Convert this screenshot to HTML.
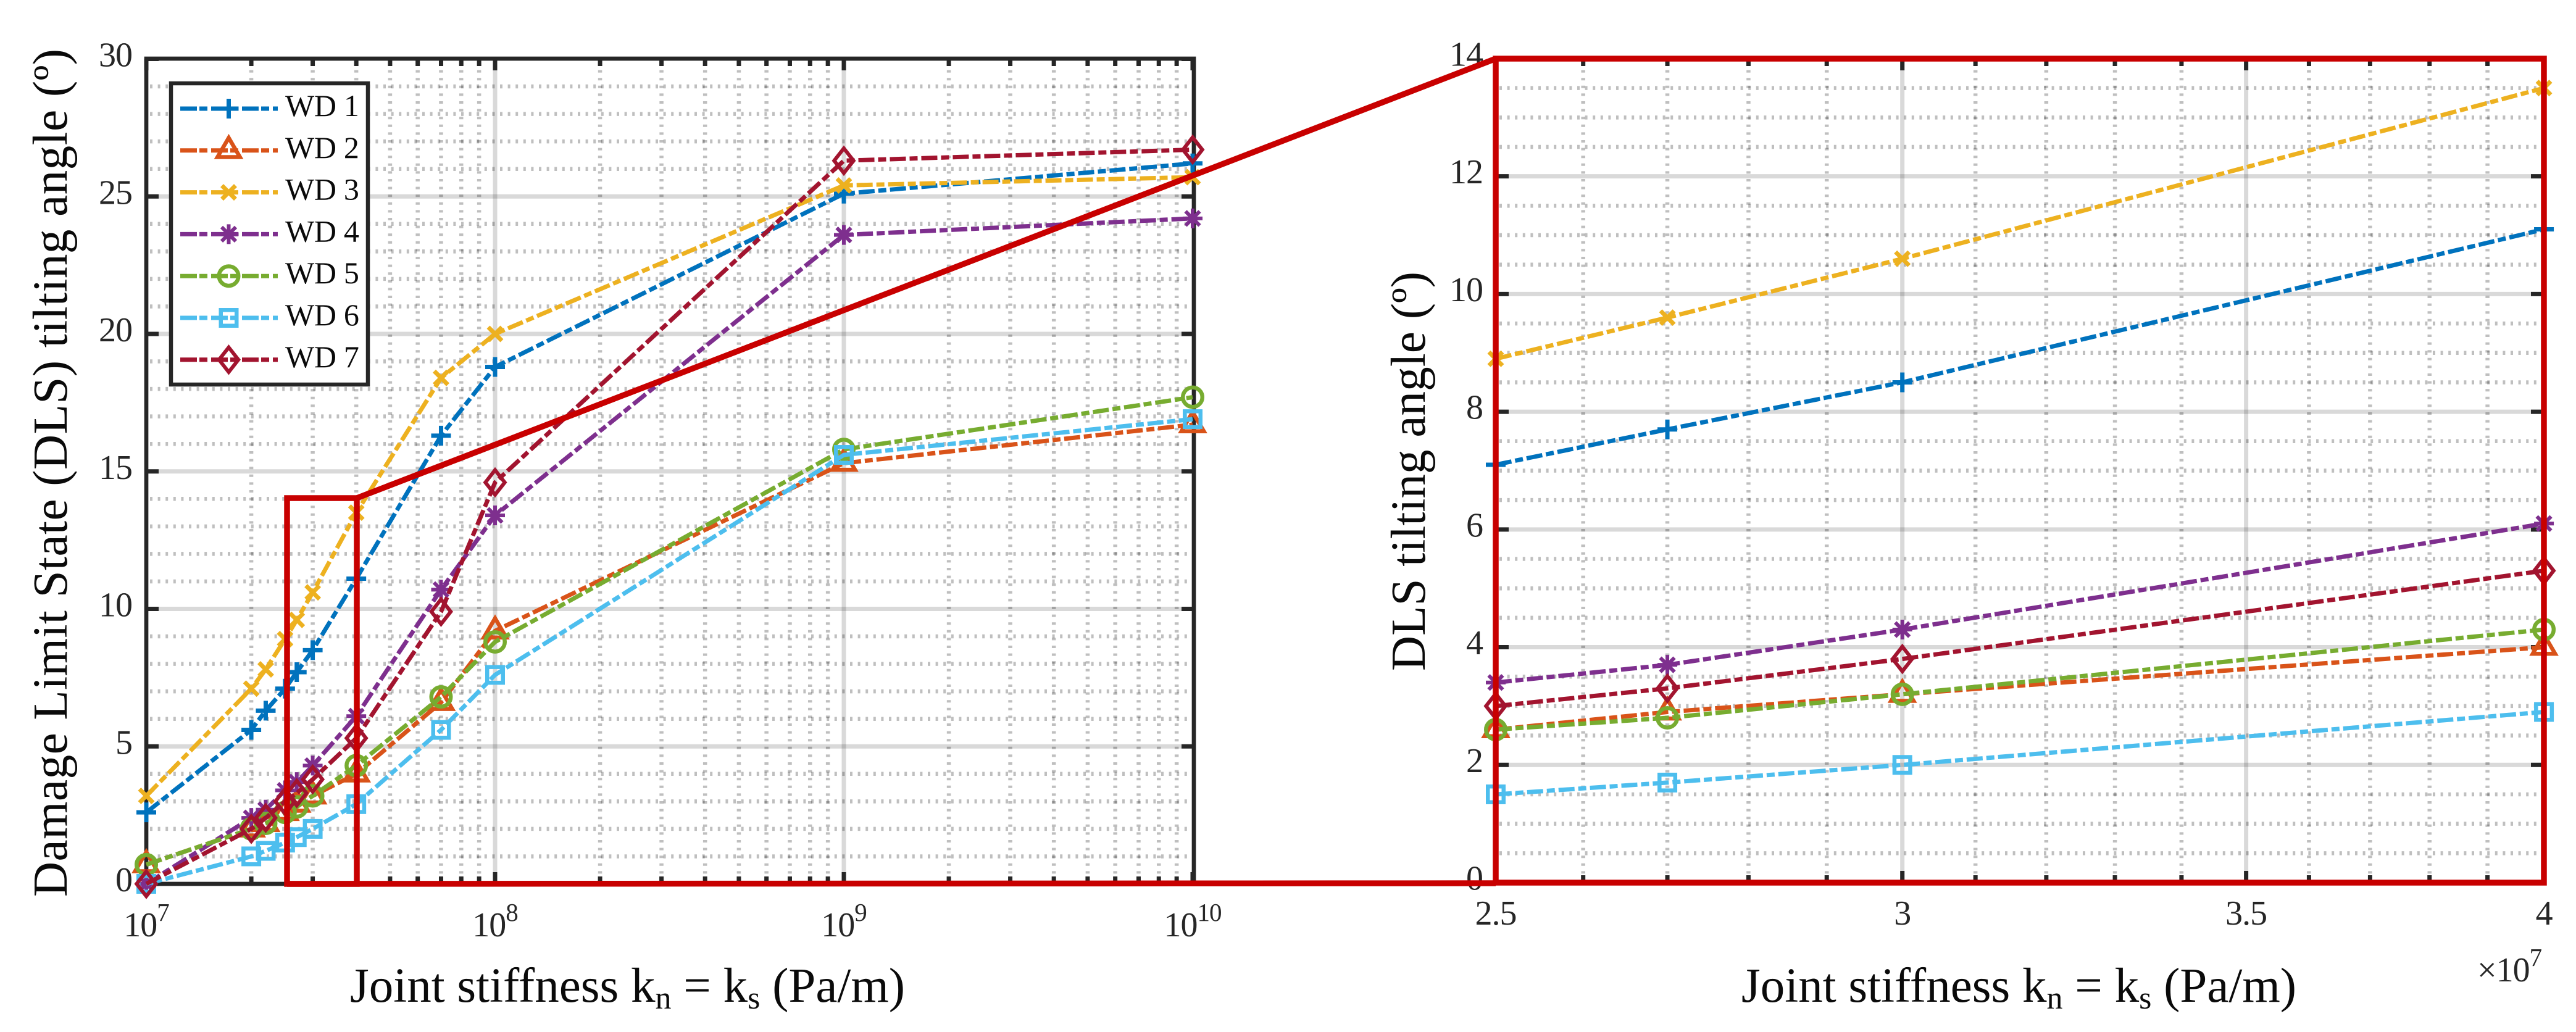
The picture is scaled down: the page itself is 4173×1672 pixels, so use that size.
<!DOCTYPE html>
<html lang="en">
<head>
<meta charset="utf-8">
<title>DLS tilting angle versus joint stiffness</title>
<style>
html,body{margin:0;padding:0;background:#fff;}
svg{display:block;}
text{font-family:"Liberation Serif",serif;}
.tick-text{font-size:56px;fill:#262626;letter-spacing:-1px;}
.axis-title{font-size:79px;fill:#0a0a0a;}
</style>
</head>
<body>
<svg id="chart" xmlns="http://www.w3.org/2000/svg" width="4173" height="1672" viewBox="0 0 4173 1672">
  <rect x="0" y="0" width="4173" height="1672" fill="#fff"/>
  <g id="left-grid"></g>
  <g id="right-grid"></g>
  <g id="left-axes"></g>
  <g id="right-axes"></g>
  <g id="left-series"></g>
  <g id="right-series"></g>
  <g id="legend"></g>

  <g fill="none" stroke="#c80000" stroke-width="9.5" stroke-linejoin="miter">
    <rect x="465" y="807" width="113" height="625"/>
    <line x1="578" y1="807" x2="2423" y2="95"/>
    <line x1="465" y1="1432" x2="2423" y2="1431"/>
    <rect x="2423" y="95" width="1698" height="1335"/>
  </g>

  <text class="axis-title" transform="translate(108 766) rotate(-90)" text-anchor="middle" textLength="1374" lengthAdjust="spacing">Damage Limit State (DLS) tilting angle (º)</text>
  <text class="axis-title" x="567" y="1623">Joint stiffness k<tspan dy="11" font-size="52">n</tspan><tspan dy="-11"> = k</tspan><tspan dy="11" font-size="52">s</tspan><tspan dy="-11"> (Pa/m)</tspan></text>
  <text class="axis-title" transform="translate(2308 763.5) rotate(-90)" text-anchor="middle" textLength="647" lengthAdjust="spacing">DLS tilting angle (º)</text>
  <text class="axis-title" x="2821" y="1623">Joint stiffness k<tspan dy="11" font-size="52">n</tspan><tspan dy="-11"> = k</tspan><tspan dy="11" font-size="52">s</tspan><tspan dy="-11"> (Pa/m)</tspan></text>
  <text class="tick-text" x="4013" y="1590">×10<tspan dy="-25" font-size="41">7</tspan></text>
</svg>

<script>
// ---- data ----
const stiffness = [1e7, 2e7, 2.2e7, 2.5e7, 2.7e7, 3e7, 4e7, 7e7, 1e8, 1e9, 1e10];
const wd1 = [2.6, 5.6, 6.3, 7.1, 7.7, 8.5, 11.1, 16.3, 18.8, 25.1, 26.2];
const wd2 = [0.7, 2.0, 2.2, 2.6, 2.9, 3.2, 4.0, 6.6, 9.2, 15.3, 16.7];
const wd3 = [3.2, 7.1, 7.8, 8.9, 9.6, 10.6, 13.5, 18.4, 20.0, 25.4, 25.7];
const wd4 = [0.0, 2.4, 2.7, 3.4, 3.7, 4.3, 6.1, 10.7, 13.4, 23.6, 24.2];
const wd5 = [0.7, 2.0, 2.2, 2.6, 2.8, 3.2, 4.3, 6.8, 8.8, 15.8, 17.7];
const wd6 = [0.0, 1.0, 1.2, 1.5, 1.7, 2.0, 2.9, 5.6, 7.6, 15.6, 16.9];
const wd7 = [0.0, 2.0, 2.4, 3.0, 3.3, 3.8, 5.3, 9.9, 14.6, 26.3, 26.7];
const seriesLabels = ['WD 1', 'WD 2', 'WD 3', 'WD 4', 'WD 5', 'WD 6', 'WD 7'];
const leftYTicks = [0, 5, 10, 15, 20, 25, 30];
const leftYMinor = [1, 2, 3, 4, 6, 7, 8, 9, 11, 12, 13, 14, 16, 17, 18, 19, 21, 22, 23, 24, 26, 27, 28, 29];
const leftXExponents = [7, 8, 9, 10];
const leftXMinorMultipliers = [2, 3, 4, 5, 6, 7, 8, 9];
const rightYTicks = [0, 2, 4, 6, 8, 10, 12, 14];
const rightYMinor = [0.5, 1, 1.5, 2.5, 3, 3.5, 4.5, 5, 5.5, 6.5, 7, 7.5, 8.5, 9, 9.5, 10.5, 11, 11.5, 12.5, 13, 13.5];
const rightXTicks = [2.5, 3, 3.5, 4];
const rightXMinor = [2.6, 2.7, 2.8, 2.9, 3.1, 3.2, 3.3, 3.4, 3.6, 3.7, 3.8, 3.9];

const allSeries = [wd1, wd2, wd3, wd4, wd5, wd6, wd7];
const seriesColors = ['#0072BD', '#D95319', '#EDB120', '#7E2F8E', '#77AC30', '#4DBEEE', '#A2142F'];
const markerKinds = ['plus', 'triangle', 'cross', 'star', 'circle', 'square', 'diamond'];

// ---- axis functions ----
const xLeft = k => 237 + 565 * (Math.log10(k) - 7);
const yLeft = v => 1432 - 44.55 * v;
const xRight = k => 2423 + 8319 * Math.log10(k / 2.5e7);
const yRight = v => 1430 - 95.36 * v;

const NS = 'http://www.w3.org/2000/svg';
const AXIS = '#262626';
const DASH = '26 6 13 6';

function make(tag, attrs, parent) {
  const el = document.createElementNS(NS, tag);
  for (const key in attrs) el.setAttribute(key, attrs[key]);
  parent.appendChild(el);
  return el;
}

function gridLine(parent, x1, y1, x2, y2, major, horizontal) {
  const attrs = {x1: x1, y1: y1, x2: x2, y2: y2, stroke: '#000', fill: 'none'};
  if (major) {
    attrs['stroke-width'] = 7;
    attrs['stroke-opacity'] = 0.15;
  } else {
    attrs['stroke-width'] = 6.5;
    attrs['stroke-opacity'] = 0.25;
    attrs['stroke-dasharray'] = '4 8.6';
  }
  const el = make('line', attrs, parent);
  
  
}

function tickMark(parent, x1, y1, x2, y2) {
  const el = make('line', {x1: x1, y1: y1, x2: x2, y2: y2, stroke: AXIS, 'stroke-width': 7}, parent);
  
  
}

function tickLabel(parent, x, y, anchor, str, exponent) {
  const el = make('text', {x: x, y: y, 'text-anchor': anchor, class: 'tick-text'}, parent);
  
  
  el.textContent = str;
  if (exponent !== undefined) {
    const sup = make('tspan', {dy: -25, 'font-size': 41}, el);
    sup.textContent = exponent;
  }
}

function drawMarker(parent, kind, cx, cy, color) {
  const g = make('g', {transform: 'translate(' + cx + ' ' + cy + ')', fill: 'none', stroke: color, 'stroke-width': 6.5}, parent);
  
  
  if (kind === 'plus') {
    make('path', {d: 'M-16 0H16M0 -16V16', 'stroke-width': 7}, g);
  } else if (kind === 'triangle') {
    make('path', {d: 'M0 -20.5L18.2 10.7H-18.2Z', 'stroke-linejoin': 'miter', 'stroke-miterlimit': 10}, g);
  } else if (kind === 'cross') {
    make('path', {d: 'M-11 -11L11 11M-11 11L11 -11', 'stroke-width': 7}, g);
  } else if (kind === 'star') {
    make('path', {d: 'M-16 0H16M0 -16V16M-11.5 -11.5L11.5 11.5M-11.5 11.5L11.5 -11.5', 'stroke-width': 6}, g);
  } else if (kind === 'circle') {
    make('circle', {cx: 0, cy: 0, r: 15.75}, g);
  } else if (kind === 'square') {
    make('rect', {x: -12.75, y: -12.75, width: 25.5, height: 25.5}, g);
  } else if (kind === 'diamond') {
    make('path', {d: 'M0 -20L15.7 0L0 20L-15.7 0Z', 'stroke-linejoin': 'miter', 'stroke-miterlimit': 10, 'stroke-width': 6}, g);
  }
}

function drawSeries(parent, xFn, yFn, keep) {
  allSeries.forEach(function (values, s) {
    const group = make('g', {}, parent);
    
    
    const pts = [];
    values.forEach(function (v, i) {
      if (keep(stiffness[i])) pts.push([xFn(stiffness[i]), yFn(v)]);
    });
    const line = make('polyline', {
      points: pts.map(p => p[0].toFixed(1) + ',' + p[1].toFixed(1)).join(' '),
      fill: 'none', stroke: seriesColors[s], 'stroke-width': 7, 'stroke-dasharray': DASH
    }, group);
    
    
    pts.forEach(function (p) {
      drawMarker(group, markerKinds[s], p[0], p[1], seriesColors[s]);
    });
  });
}

// ---- overview panel ----
const L = {x0: 237, x1: 1934, y0: 1432, y1: 95};
const leftGrid = document.getElementById('left-grid');
const leftAxes = document.getElementById('left-axes');

leftYMinor.forEach(v => gridLine(leftGrid, L.x0 + 6, yLeft(v), L.x1, yLeft(v), false, true));
leftYTicks.forEach(function (v) {
  if (v !== 0 && v !== 30) gridLine(leftGrid, L.x0, yLeft(v), L.x1, yLeft(v), true, true);
  tickMark(leftAxes, L.x0, yLeft(v), L.x0 + 20, yLeft(v));
  tickMark(leftAxes, L.x1, yLeft(v), L.x1 - 20, yLeft(v));
  tickLabel(leftAxes, 214, yLeft(v) + 12, 'end', String(v));
});
leftXExponents.forEach(function (e) {
  const x = xLeft(Math.pow(10, e));
  if (e !== 7 && e !== 10) gridLine(leftGrid, x, L.y1, x, L.y0, true, false);
  tickMark(leftAxes, x, L.y0, x, L.y0 - 19);
  tickMark(leftAxes, x, L.y1, x, L.y1 + 19);
  tickLabel(leftAxes, x, 1517, 'middle', '10', e);
  if (e < 10) {
    leftXMinorMultipliers.forEach(function (m) {
      const xm = xLeft(m * Math.pow(10, e));
      gridLine(leftGrid, xm, L.y1 + 6, xm, L.y0, false, false);
      tickMark(leftAxes, xm, L.y0, xm, L.y0 - 12);
      tickMark(leftAxes, xm, L.y1, xm, L.y1 + 12);
    });
  }
});
const leftFrame = make('rect', {x: L.x0, y: L.y1, width: L.x1 - L.x0, height: L.y0 - L.y1, fill: 'none', stroke: AXIS, 'stroke-width': 6.7}, leftAxes);



drawSeries(document.getElementById('left-series'), xLeft, yLeft, () => true);

// ---- zoom panel ----
const R = {x0: 2423, x1: 4121, y0: 1430, y1: 95};
const rightGrid = document.getElementById('right-grid');
const rightAxes = document.getElementById('right-axes');

rightYMinor.forEach(v => gridLine(rightGrid, R.x0 + 6, yRight(v), R.x1, yRight(v), false, true));
rightYTicks.forEach(function (v) {
  if (v !== 0 && v !== 14) gridLine(rightGrid, R.x0, yRight(v), R.x1, yRight(v), true, true);
  tickMark(rightAxes, R.x0, yRight(v), R.x0 + 21, yRight(v));
  tickMark(rightAxes, R.x1, yRight(v), R.x1 - 21, yRight(v));
  tickLabel(rightAxes, 2402, yRight(v) + 11.5, 'end', String(v));
});
rightXMinor.forEach(function (t) {
  const x = xRight(t * 1e7);
  gridLine(rightGrid, x, R.y1 + 6, x, R.y0, false, false);
  tickMark(rightAxes, x, R.y0, x, R.y0 - 12);
  tickMark(rightAxes, x, R.y1, x, R.y1 + 12);
});
rightXTicks.forEach(function (t) {
  const x = xRight(t * 1e7);
  if (t !== 2.5 && t !== 4) gridLine(rightGrid, x, R.y1, x, R.y0, true, false);
  tickMark(rightAxes, x, R.y0, x, R.y0 - 19);
  tickMark(rightAxes, x, R.y1, x, R.y1 + 19);
  tickLabel(rightAxes, x, 1498, 'middle', String(t));
});

drawSeries(document.getElementById('right-series'), xRight, yRight, k => k >= 2.5e7 && k <= 4e7);

// ---- legend ----
const legend = document.getElementById('legend');
const legendBox = make('rect', {x: 277, y: 135, width: 319, height: 488, fill: '#fff', stroke: AXIS, 'stroke-width': 6.5}, legend);


seriesLabels.forEach(function (label, s) {
  const rowY = 176 + s * 67.8;
  const row = make('g', {}, legend);
  
  
  const sample = make('line', {x1: 292, y1: rowY, x2: 450, y2: rowY, stroke: seriesColors[s], 'stroke-width': 7, 'stroke-dasharray': '27 4 13 6'}, row);
  
  
  drawMarker(row, markerKinds[s], 370.5, rowY, seriesColors[s]);
  const txt = make('text', {x: 462, y: rowY + 12, 'font-size': 50, fill: '#0a0a0a', 'letter-spacing': '-0.3'}, row);
  
  
  txt.textContent = label;
});
</script>
</body>
</html>
